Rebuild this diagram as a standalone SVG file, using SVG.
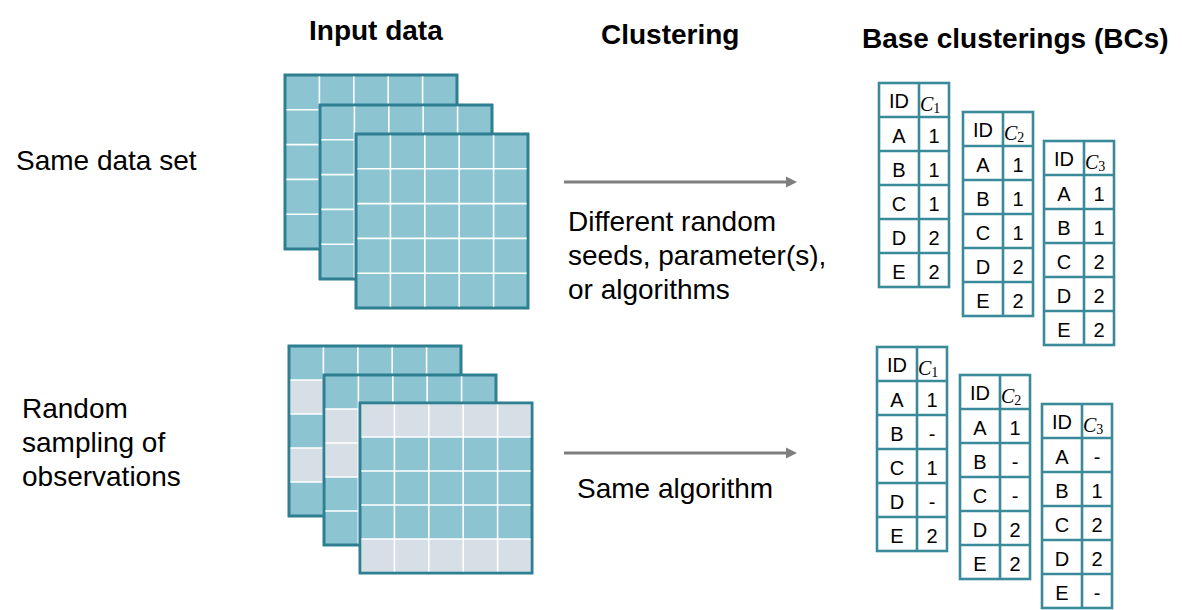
<svg xmlns="http://www.w3.org/2000/svg" width="1182" height="610" viewBox="0 0 1182 610">
<style>
.t{font-family:"Liberation Sans",Arial,sans-serif;fill:#000}
.title{font-size:28px;font-weight:bold}
.lbl{font-size:28px}
.cell{font-size:20px;text-anchor:middle}
.ci{font-family:"Liberation Serif","Times New Roman",serif;font-style:italic;font-size:20px;fill:#000}
.sub{font-size:14px;font-style:normal}
.gf{fill:#8CC4D2;stroke:#2F7F92;stroke-width:2.6}
.gray{fill:#D6DFE5}
.gl{stroke:#fff;stroke-width:1.6}
.tb{fill:#fff;stroke:#3A8A9A;stroke-width:2.6}
.tl{stroke:#3A8A9A;stroke-width:2.6}
.arr{stroke:#7F7F7F;stroke-width:3;fill:none}
</style>
<defs>
<marker id="ah" markerWidth="12" markerHeight="12" refX="0" refY="6" orient="auto" markerUnits="userSpaceOnUse">
<path d="M0,0.6 L11,6 L0,11.4 Z" fill="#7F7F7F"/>
</marker>
<g id="gridlines">
<path class="gl" d="M34.4,0V174M68.8,0V174M103.2,0V174M137.6,0V174M0,34.8H172M0,69.6H172M0,104.4H172M0,139.2H172"/>
</g>
<g id="gridlinesB">
<path class="gl" d="M34.4,0V170M68.8,0V170M103.2,0V170M137.6,0V170M0,34H172M0,68H172M0,102H172M0,136H172"/>
</g>
<g id="tframe">
<rect class="tb" x="0" y="0" width="70" height="204"/>
<path class="tl" d="M40,0V204M0,34H70M0,68H70M0,102H70M0,136H70M0,170H70"/>
</g>
</defs>

<g id="titles">
<text class="t title" x="309" y="40">Input data</text>
<text class="t title" x="601" y="44">Clustering</text>
<text class="t title" x="862" y="48">Base clusterings (BCs)</text>
</g>

<g id="left-labels">
<text class="t lbl" x="16" y="170">Same data set</text>
<text class="t lbl" x="22" y="418">Random</text>
<text class="t lbl" x="22" y="452">sampling of</text>
<text class="t lbl" x="22" y="486">observations</text>
</g>

<g id="input-top">
<g transform="translate(285,75)"><rect class="gf" width="172" height="174"/><use href="#gridlines"/><rect width="172" height="174" fill="none" stroke="#2F7F92" stroke-width="2.6"/></g>
<g transform="translate(320,105)"><rect class="gf" width="172" height="174"/><use href="#gridlines"/><rect width="172" height="174" fill="none" stroke="#2F7F92" stroke-width="2.6"/></g>
<g transform="translate(356,134)"><rect class="gf" width="172" height="174"/><use href="#gridlines"/><rect width="172" height="174" fill="none" stroke="#2F7F92" stroke-width="2.6"/></g>
</g>

<g id="input-bottom">
<g transform="translate(289,346)"><rect class="gf" width="172" height="170"/>
<rect class="gray" x="0" y="34" width="172" height="34"/><rect class="gray" x="0" y="102" width="172" height="34"/>
<use href="#gridlinesB"/><rect width="172" height="170" fill="none" stroke="#2F7F92" stroke-width="2.6"/></g>
<g transform="translate(324,375)"><rect class="gf" width="172" height="170"/>
<rect class="gray" x="0" y="34" width="172" height="68"/>
<use href="#gridlinesB"/><rect width="172" height="170" fill="none" stroke="#2F7F92" stroke-width="2.6"/></g>
<g transform="translate(360,403)"><rect class="gf" width="172" height="170"/>
<rect class="gray" x="0" y="0" width="172" height="34"/><rect class="gray" x="0" y="136" width="172" height="34"/>
<use href="#gridlinesB"/><rect width="172" height="170" fill="none" stroke="#2F7F92" stroke-width="2.6"/></g>
</g>

<g id="connectors">
<line class="arr" x1="564" y1="182" x2="786" y2="182" marker-end="url(#ah)"/>
<line class="arr" x1="564" y1="453" x2="786" y2="453" marker-end="url(#ah)"/>
</g>

<g id="clustering-labels">
<text class="t lbl" x="568" y="231">Different random</text>
<text class="t lbl" x="568" y="265">seeds, parameter(s),</text>
<text class="t lbl" x="568" y="299">or algorithms</text>
<text class="t lbl" x="577" y="498">Same algorithm</text>
</g>

<g id="bc-top-1" transform="translate(879,83)">
<use href="#tframe"/>
<text class="t cell" x="20" y="25">ID</text><text class="ci" x="41" y="28">C<tspan class="sub" dy="2">1</tspan></text>
<text class="t cell" x="20" y="60">A</text><text class="t cell" x="55" y="60">1</text>
<text class="t cell" x="20" y="94">B</text><text class="t cell" x="55" y="94">1</text>
<text class="t cell" x="20" y="128">C</text><text class="t cell" x="55" y="128">1</text>
<text class="t cell" x="20" y="162">D</text><text class="t cell" x="55" y="162">2</text>
<text class="t cell" x="20" y="196">E</text><text class="t cell" x="55" y="196">2</text>
</g>
<g id="bc-top-2" transform="translate(963,112)">
<use href="#tframe"/>
<text class="t cell" x="20" y="25">ID</text><text class="ci" x="41" y="28">C<tspan class="sub" dy="2">2</tspan></text>
<text class="t cell" x="20" y="60">A</text><text class="t cell" x="55" y="60">1</text>
<text class="t cell" x="20" y="94">B</text><text class="t cell" x="55" y="94">1</text>
<text class="t cell" x="20" y="128">C</text><text class="t cell" x="55" y="128">1</text>
<text class="t cell" x="20" y="162">D</text><text class="t cell" x="55" y="162">2</text>
<text class="t cell" x="20" y="196">E</text><text class="t cell" x="55" y="196">2</text>
</g>
<g id="bc-top-3" transform="translate(1044,141)">
<use href="#tframe"/>
<text class="t cell" x="20" y="25">ID</text><text class="ci" x="41" y="28">C<tspan class="sub" dy="2">3</tspan></text>
<text class="t cell" x="20" y="60">A</text><text class="t cell" x="55" y="60">1</text>
<text class="t cell" x="20" y="94">B</text><text class="t cell" x="55" y="94">1</text>
<text class="t cell" x="20" y="128">C</text><text class="t cell" x="55" y="128">2</text>
<text class="t cell" x="20" y="162">D</text><text class="t cell" x="55" y="162">2</text>
<text class="t cell" x="20" y="196">E</text><text class="t cell" x="55" y="196">2</text>
</g>

<g id="bc-bot-1" transform="translate(877,347)">
<use href="#tframe"/>
<text class="t cell" x="20" y="25">ID</text><text class="ci" x="41" y="28">C<tspan class="sub" dy="2">1</tspan></text>
<text class="t cell" x="20" y="60">A</text><text class="t cell" x="55" y="60">1</text>
<text class="t cell" x="20" y="94">B</text><text class="t cell" x="55" y="94">-</text>
<text class="t cell" x="20" y="128">C</text><text class="t cell" x="55" y="128">1</text>
<text class="t cell" x="20" y="162">D</text><text class="t cell" x="55" y="162">-</text>
<text class="t cell" x="20" y="196">E</text><text class="t cell" x="55" y="196">2</text>
</g>
<g id="bc-bot-2" transform="translate(960,375)">
<use href="#tframe"/>
<text class="t cell" x="20" y="25">ID</text><text class="ci" x="41" y="28">C<tspan class="sub" dy="2">2</tspan></text>
<text class="t cell" x="20" y="60">A</text><text class="t cell" x="55" y="60">1</text>
<text class="t cell" x="20" y="94">B</text><text class="t cell" x="55" y="94">-</text>
<text class="t cell" x="20" y="128">C</text><text class="t cell" x="55" y="128">-</text>
<text class="t cell" x="20" y="162">D</text><text class="t cell" x="55" y="162">2</text>
<text class="t cell" x="20" y="196">E</text><text class="t cell" x="55" y="196">2</text>
</g>
<g id="bc-bot-3" transform="translate(1042,404)">
<use href="#tframe"/>
<text class="t cell" x="20" y="25">ID</text><text class="ci" x="41" y="28">C<tspan class="sub" dy="2">3</tspan></text>
<text class="t cell" x="20" y="60">A</text><text class="t cell" x="55" y="60">-</text>
<text class="t cell" x="20" y="94">B</text><text class="t cell" x="55" y="94">1</text>
<text class="t cell" x="20" y="128">C</text><text class="t cell" x="55" y="128">2</text>
<text class="t cell" x="20" y="162">D</text><text class="t cell" x="55" y="162">2</text>
<text class="t cell" x="20" y="196">E</text><text class="t cell" x="55" y="196">-</text>
</g>
</svg>
